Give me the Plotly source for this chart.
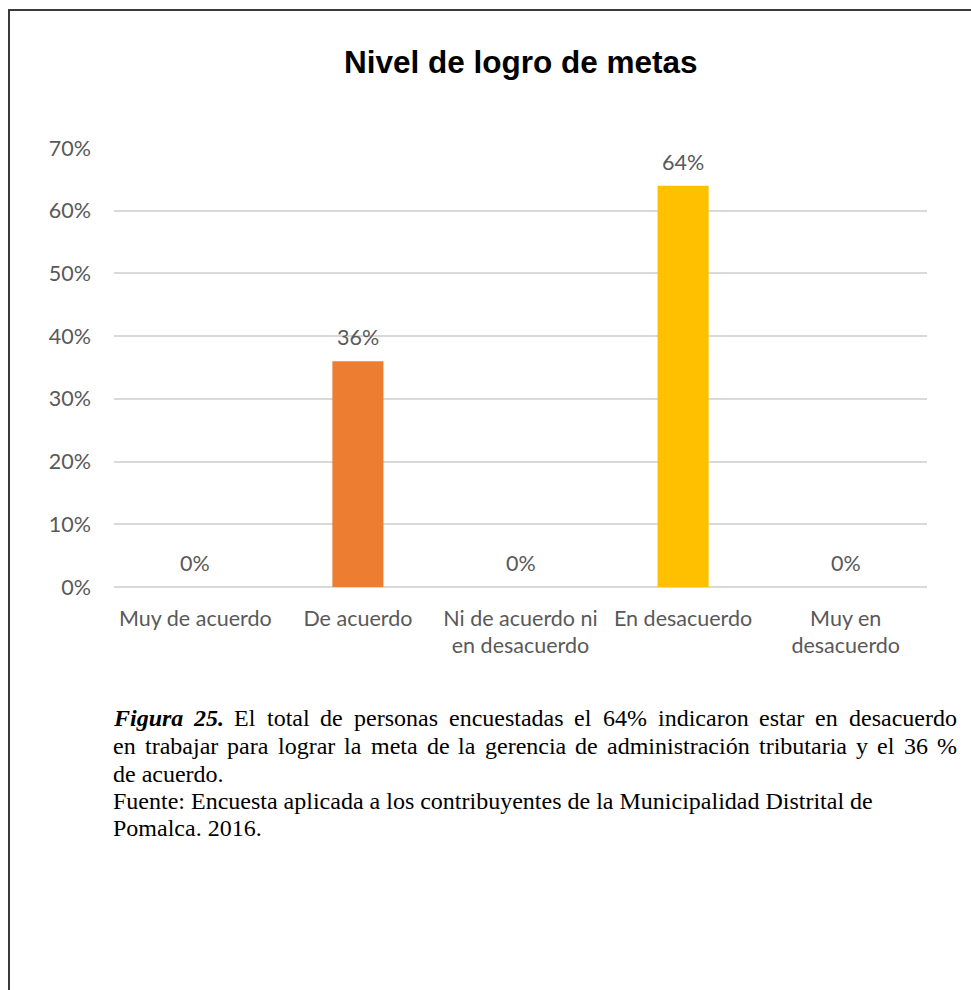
import plotly.graph_objects as go

# Survey results: level of goal achievement
categories = [
    "Muy de acuerdo",
    "De acuerdo",
    "Ni de acuerdo ni<br>en desacuerdo",
    "En desacuerdo",
    "Muy en<br>desacuerdo",
]
percentages = [0, 36, 0, 64, 0]
bar_colors = ["#5B9BD5", "#ED7D31", "#A5A5A5", "#FFC000", "#4472C4"]
y_ticks = [0, 10, 20, 30, 40, 50, 60, 70]

title_text = "Nivel de logro de metas"
caption_label = "Figura 25."
# (text, justified)
caption_lines = [
    ("El total de personas encuestadas el 64% indicaron estar en desacuerdo", True),
    ("en trabajar para lograr la meta de la gerencia de administración tributaria y el 36 %", True),
    ("de acuerdo.", False),
    ("Fuente: Encuesta aplicada a los contribuyentes de la Municipalidad Distrital de", False),
    ("Pomalca. 2016.", False),
]

W, H = 971, 990
PL, PR, PT, PB = 114, 927, 148, 587


def px(x):
    return (x - PL) / (PR - PL)


def py(y):
    return (PB - y) / (PB - PT)


# Times-style advance widths (1/1000 em) used to spread words on justified lines
SERIF_W = {
    " ": 250, "a": 444, "b": 500, "c": 444, "d": 500, "e": 444, "f": 333, "g": 500,
    "h": 500, "i": 278, "j": 278, "k": 500, "l": 278, "m": 778, "n": 500, "o": 500,
    "p": 500, "q": 500, "r": 333, "s": 389, "t": 278, "u": 500, "v": 500, "w": 722,
    "x": 500, "y": 500, "z": 444, "ó": 500, "E": 611, "F": 556, "D": 722, "M": 889,
    "P": 556, "%": 833, ".": 250, ":": 278,
}
for d in "0123456789":
    SERIF_W[d] = 500
SERIF_BI_W = {"F": 667, "i": 278, "g": 500, "u": 556, "r": 389, "a": 500,
              "2": 500, "5": 500, ".": 250, " ": 250}


def text_width(s, size, table):
    return sum(table.get(ch, 500) for ch in s) * size / 1000.0


label_font = dict(family="Lato, Open Sans, sans-serif", size=21.5, color="#595959")

fig = go.Figure(
    go.Bar(
        x=categories,
        y=percentages,
        marker=dict(color=bar_colors, line=dict(width=0)),
        width=0.314,
        hoverinfo="skip",
    )
)

# value labels above each bar
for cat, val in zip(categories, percentages):
    fig.add_annotation(
        x=cat, y=val, text=f"{val}%", showarrow=False,
        xref="x", yref="y", yanchor="middle", yshift=24,
        font=label_font,
    )

# chart title
fig.add_annotation(
    x=px(520.5), y=py(62), xref="paper", yref="paper",
    text=f"<b>{title_text}</b>", showarrow=False,
    xanchor="center", yanchor="middle",
    font=dict(family="Liberation Sans, Arial, sans-serif", size=31.5, color="#000000"),
)

# caption below the chart
CAP_SIZE = 24
caption_font = dict(family="Liberation Serif, Times New Roman, serif", size=CAP_SIZE, color="#000000")
CAP_LEFT, CAP_RIGHT = 112, 956
line_y = [718, 746, 774, 801, 828]


def add_word(x_left, y, text):
    fig.add_annotation(
        x=px(x_left), y=py(y), xref="paper", yref="paper", text=text,
        showarrow=False, xanchor="left", yanchor="middle", borderpad=0,
        font=caption_font,
    )


for i, ((line, justified), yy) in enumerate(zip(caption_lines, line_y)):
    words = [(w, SERIF_W, w) for w in line.split(" ")]
    if i == 0:
        words = [(w, SERIF_BI_W, f"<b><i>{w}</i></b>") for w in caption_label.split(" ")] + words
    if justified:
        widths = [text_width(w, CAP_SIZE, tbl) for w, tbl, _ in words]
        gap = (CAP_RIGHT - CAP_LEFT - sum(widths)) / (len(words) - 1)
        x = CAP_LEFT
        for (w, tbl, shown), wd in zip(words, widths):
            add_word(x, yy, shown)
            x += wd + gap
    else:
        add_word(CAP_LEFT, yy, " ".join(shown for _, _, shown in words))

# outer frame
fig.add_shape(
    type="rect", xref="paper", yref="paper",
    x0=px(9), x1=px(980), y0=py(10), y1=py(1000),
    line=dict(color="#3a3a3a", width=2), fillcolor="rgba(0,0,0,0)", layer="above",
)

fig.update_layout(
    width=W, height=H,
    margin=dict(l=PL, r=W - PR, t=PT, b=H - PB, pad=0),
    paper_bgcolor="white", plot_bgcolor="white",
    showlegend=False,
    bargap=0.686,
)
fig.update_xaxes(
    showgrid=False, showline=False, zeroline=False, ticks="",
    tickfont=label_font, ticklabelstandoff=16, fixedrange=True,
)
fig.update_yaxes(
    range=[0, 70], tickvals=y_ticks, ticktext=[f"{v}%" for v in y_ticks],
    showgrid=True, gridcolor="#D9D9D9", gridwidth=1.5,
    zeroline=True, zerolinecolor="#D9D9D9", zerolinewidth=1.5,
    showline=False, ticks="", ticklabelstandoff=22,
    tickfont=label_font, fixedrange=True,
)

fig.write_html("out.html", config={"displayModeBar": False})
